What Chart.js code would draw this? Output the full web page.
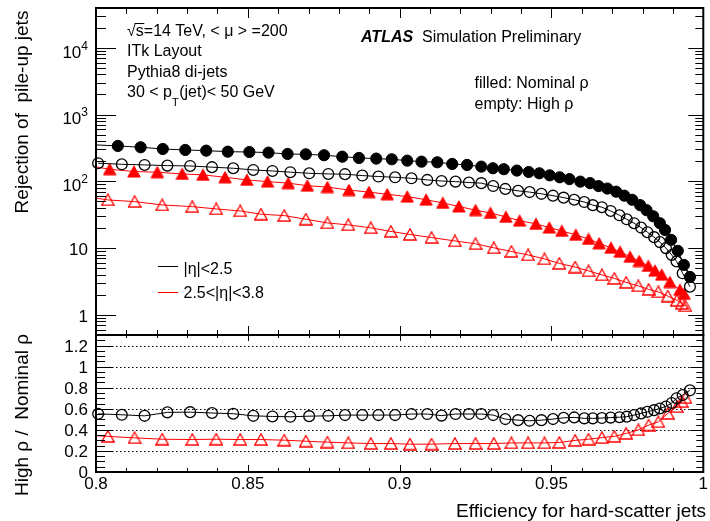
<!DOCTYPE html>
<html>
<head>
<meta charset="utf-8">
<title>Pile-up jet rejection vs efficiency</title>
<script src="https://cdn.jsdelivr.net/npm/chart.js@4.4.1/dist/chart.umd.min.js"></script>
<style>
  html, body { margin: 0; padding: 0; background: #fff; }
  #wrap { position: relative; width: 710px; height: 521px; }
  #wrap canvas { position: absolute; left: 0; top: 0; }
</style>
</head>
<body>
<div id="wrap">
  <canvas id="rejection" width="710" height="521"></canvas>
  <canvas id="ratio" width="710" height="521"></canvas>
</div>
<script>
const FONT = '"Liberation Sans", Arial, Helvetica, sans-serif';

// |eta| < 2.5, nominal rho (filled circles). First entry only starts the line.
const effCentralNom = [0.8, 0.8072, 0.8147, 0.8220, 0.8294, 0.8363, 0.8434, 0.8505, 0.8568, 0.8631,
  0.8691, 0.8751, 0.8811, 0.8866, 0.8923, 0.8974, 0.9025, 0.9072, 0.9124, 0.9173,
  0.9222, 0.9269, 0.9307, 0.9343, 0.9386, 0.9425, 0.9460, 0.9494, 0.9527, 0.9559,
  0.9595, 0.9627, 0.9655, 0.9684, 0.9713, 0.9740, 0.9766, 0.9792, 0.9813, 0.9835,
  0.9857, 0.9874, 0.9894, 0.9916, 0.9936, 0.9956];
const rejCentralNom = [351, 339, 324, 305, 295, 288, 278, 275, 269, 257,
  254, 246, 234, 224, 219, 214, 204, 197, 193, 182,
  176, 166, 157, 152, 145, 138, 132, 123, 115, 108,
  99, 94, 85, 78, 70, 61, 53, 44, 37, 30,
  23.6, 18.7, 13.3, 9.1, 5.6, 3.7];

// |eta| < 2.5, high rho (open circles)
const effCentralHigh = [0.8007, 0.8085, 0.8160, 0.8235, 0.8310, 0.8382, 0.8452, 0.8518, 0.8581, 0.8640,
  0.8702, 0.8765, 0.8820, 0.8877, 0.8930, 0.8985, 0.9039, 0.9091, 0.9138, 0.9184,
  0.9228, 0.9269, 0.9308, 0.9348, 0.9390, 0.9428, 0.9467, 0.9505, 0.9540, 0.9575,
  0.9608, 0.9636, 0.9666, 0.9695, 0.9724, 0.9748, 0.9772, 0.9795, 0.9816, 0.9838,
  0.9857, 0.9877, 0.9896, 0.9912, 0.9932, 0.9956];
const rejCentralHigh = [187, 180, 176, 172, 170, 163, 157, 148, 143, 137,
  132, 129, 128, 122, 118, 115, 111, 105, 101, 99,
  96, 94, 85, 77, 72, 69, 65, 61, 57, 53,
  49, 44, 41, 36, 31, 27, 23.6, 20.3, 17.3, 14.6,
  12.3, 10.0, 7.9, 6.3, 4.2, 2.65];

// 2.5 < |eta| < 3.8, nominal rho (filled triangles). First entry only starts the line.
const effFwdNom = [0.8, 0.8045, 0.8125, 0.8202, 0.8284, 0.8352, 0.8425, 0.8497, 0.8565, 0.8633,
  0.8696, 0.8762, 0.8833, 0.8899, 0.8959, 0.9025, 0.9087, 0.9142, 0.9195, 0.9250,
  0.9299, 0.9350, 0.9395, 0.9449, 0.9493, 0.9534, 0.9580, 0.9622, 0.9657, 0.9696,
  0.9726, 0.9759, 0.9789, 0.9819, 0.9841, 0.9863, 0.9890, 0.9923, 0.9937];
const rejFwdNom = [164, 152, 140, 137, 129, 125, 115, 105, 99, 94,
  86, 82, 74, 69, 64, 59, 53, 47.5, 42, 37,
  33.6, 29.3, 25.8, 23, 20.3, 18.1, 15.8, 13.7, 11.8, 10.1,
  8.8, 7.4, 6.4, 5.4, 4.6, 4.0, 3.1, 2.37, 2.06];

// 2.5 < |eta| < 3.8, high rho (open triangles). First entry only starts the line.
const effFwdHigh = [0.8, 0.8039, 0.8127, 0.8218, 0.8317, 0.8396, 0.8475, 0.8543, 0.8620, 0.8691,
  0.8762, 0.8831, 0.8905, 0.8971, 0.9034, 0.9105, 0.9182, 0.9250, 0.9310, 0.9368,
  0.9423, 0.9477, 0.9526, 0.9578, 0.9622, 0.9666, 0.9707, 0.9746, 0.9786, 0.9820,
  0.9852, 0.9883, 0.9913, 0.9929, 0.9941];
const rejFwdHigh = [56, 52.7, 49.7, 44.3, 41.8, 38.6, 36.0, 32.2, 30.7, 27.1,
  23.8, 22.3, 20.1, 17.8, 16.0, 14.4, 12.8, 11.6, 10.1, 8.9,
  7.9, 6.9, 5.9, 5.2, 4.56, 3.97, 3.52, 3.07, 2.72, 2.41,
  2.21, 1.91, 1.65, 1.49, 1.36];

// high rho / nominal rho, at the high-rho efficiency points
const ratioCentral = [0.552, 0.543, 0.533, 0.566, 0.568, 0.56, 0.553, 0.533, 0.527, 0.524,
  0.53, 0.533, 0.54, 0.54, 0.54, 0.54, 0.55, 0.55, 0.535, 0.55,
  0.55, 0.55, 0.54, 0.502, 0.492, 0.486, 0.492, 0.502, 0.514, 0.518,
  0.509, 0.509, 0.512, 0.516, 0.52, 0.525, 0.54, 0.556, 0.571, 0.587,
  0.603, 0.622, 0.655, 0.70, 0.73, 0.775];
const ratioFwd = [0.345, 0.338, 0.324, 0.311, 0.308, 0.311, 0.308, 0.308, 0.302, 0.292,
  0.283, 0.276, 0.270, 0.270, 0.264, 0.264, 0.270, 0.270, 0.270, 0.276,
  0.276, 0.276, 0.280, 0.30, 0.311, 0.326, 0.338, 0.366, 0.40, 0.445,
  0.476, 0.556, 0.619, 0.667, 0.705];

// axis ticks
const xTickValues = [0.8, 0.85, 0.9, 0.95, 1.0];
const xTickLabels = ['0.8', '0.85', '0.9', '0.95', '1'];
const rejTickValues = [1, 10, 100, 1000, 10000];
const rejTickBase = ['1', '10', '10', '10', '10'];
const rejTickPower = ['', '', '2', '3', '4'];
const ratioTickValues = [0, 0.2, 0.4, 0.6, 0.8, 1.0, 1.2];
const ratioTickLabels = ['0', '0.2', '0.4', '0.6', '0.8', '1', '1.2'];

const REJ_MIN = 0.5, REJ_MAX = 39400;

const xMinor = [];
for (let i = 81; i < 100; i++) if (i % 5) xMinor.push(i / 100);
const rejMinor = [];
for (let k = -1; k <= 4; k++) {
  for (let m = 2; m <= 9; m++) {
    const v = m * Math.pow(10, k);
    if (v > REJ_MIN && v < REJ_MAX) rejMinor.push(v);
  }
}
const ratioMinor = [];
for (let i = 1; i <= 25; i++) if (i % 4) ratioMinor.push(i * 0.05);

const RED = '#ff0000';

// ROOT-like triangle, centred on its bounding box
function triangleMarker(color, filled) {
  const c = document.createElement('canvas');
  c.width = 14; c.height = 13;
  const g = c.getContext('2d');
  g.beginPath();
  g.moveTo(7, 0.8);
  g.lineTo(13.2, 12);
  g.lineTo(0.8, 12);
  g.closePath();
  if (filled) { g.fillStyle = color; g.fill(); }
  g.strokeStyle = color;
  g.lineWidth = filled ? 1 : 1.3;
  g.stroke();
  return c;
}
const triFilled = triangleMarker(RED, true);
const triOpen = triangleMarker(RED, false);

function points(xs, ys) {
  return xs.map((x, i) => ({ x: x, y: ys[i] }));
}

// hideFirst: the first entry is only where the line begins
function series(xs, ys, color, style, filled, hideFirst) {
  return {
    data: points(xs, ys),
    borderColor: color,
    borderWidth: 1,
    tension: 0,
    clip: false,
    pointStyle: style,
    pointRadius: ctx => (hideFirst && ctx.dataIndex === 0) ? 0 : (filled ? 5.6 : 5.4),
    pointBorderWidth: filled ? 1 : 1.3,
    pointBorderColor: color,
    pointBackgroundColor: filled ? color : 'rgba(0,0,0,0)'
  };
}

function yTicks(ctx, yScale, values, x, len) {
  values.forEach(v => {
    const py = Math.round(yScale.getPixelForValue(v)) + 0.5;
    ctx.moveTo(x, py);
    ctx.lineTo(x + len, py);
  });
}

function xTicks(ctx, xScale, values, y, len) {
  values.forEach(v => {
    const px = Math.round(xScale.getPixelForValue(v)) + 0.5;
    ctx.moveTo(px, y);
    ctx.lineTo(px, y + len);
  });
}

function text(ctx, str, x, y, size, align, style) {
  ctx.font = (style || '') + ' ' + size + 'px ' + FONT;
  ctx.textAlign = align || 'left';
  ctx.textBaseline = 'alphabetic';
  ctx.fillText(str, x, y);
  return ctx.measureText(str).width;
}

function verticalTitle(ctx, str, x, yCenter, size) {
  ctx.save();
  ctx.translate(x, yCenter);
  ctx.rotate(-Math.PI / 2);
  text(ctx, str, 0, 0, size, 'center');
  ctx.restore();
}

function frame(ctx, a) {
  ctx.lineWidth = 2;
  ctx.strokeRect(a.left, a.top, a.right - a.left, a.bottom - a.top);
}

const upperDecor = {
  id: 'upperDecor',
  afterDraw(chart) {
    const { ctx, chartArea: a, scales: { x, y } } = chart;
    ctx.save();
    ctx.strokeStyle = '#000';
    ctx.fillStyle = '#000';
    ctx.lineWidth = 1;
    ctx.beginPath();
    yTicks(ctx, y, rejTickValues, a.left, 20);
    yTicks(ctx, y, rejMinor, a.left, 10);
    yTicks(ctx, y, rejTickValues, a.right, -15);
    yTicks(ctx, y, rejMinor, a.right, -8);
    xTicks(ctx, x, xTickValues, a.bottom, -9);
    xTicks(ctx, x, xMinor, a.bottom, -5);
    xTicks(ctx, x, xTickValues, a.top, 10);
    xTicks(ctx, x, xMinor, a.top, 6);
    ctx.stroke();
    frame(ctx, a);

    // decade labels, 10 with a raised exponent
    rejTickValues.forEach((v, i) => {
      const py = y.getPixelForValue(v);
      ctx.font = '17px ' + FONT;
      const wb = ctx.measureText(rejTickBase[i]).width;
      ctx.font = '12px ' + FONT;
      const wp = rejTickPower[i] ? ctx.measureText(rejTickPower[i]).width : 0;
      const left = a.left - 8 - wb - wp;
      if (wp) {
        text(ctx, rejTickBase[i], left, py + 9.8, 17);
        text(ctx, rejTickPower[i], left + wb, py + 1.8, 12);
      } else {
        text(ctx, rejTickBase[i], left, py + 7.2, 17);
      }
    });

    verticalTitle(ctx, 'Rejection of  pile-up jets', 28, 112, 19);

    // sample description
    const w = text(ctx, '\u221A', 127, 35.5, 16);
    text(ctx, 's=14 TeV, < \u03BC > =200', 127 + w, 35.5, 16);
    ctx.font = '16px ' + FONT;
    const sw = ctx.measureText('s').width;
    ctx.beginPath();
    ctx.lineWidth = 1;
    ctx.moveTo(127 + w - 1, 23.5);
    ctx.lineTo(127 + w + sw + 0.5, 23.5);
    ctx.stroke();
    text(ctx, 'ITk Layout', 127, 55.7, 16);
    text(ctx, 'Pythia8 di-jets', 127, 76.5, 16);
    let cx = 127;
    cx += text(ctx, '30 < p', cx, 97, 16);
    cx += text(ctx, 'T', cx, 105.5, 11);
    text(ctx, '(jet)< 50 GeV', cx + 0.5, 97, 16);

    text(ctx, 'ATLAS', 361, 42, 16, 'left', 'italic bold');
    text(ctx, 'Simulation Preliminary', 422, 42, 16);
    text(ctx, 'filled: Nominal \u03C1', 474.5, 88, 16);
    text(ctx, 'empty: High \u03C1', 474.5, 108.5, 16);

    // legend
    ctx.lineWidth = 1;
    ctx.strokeStyle = '#000';
    ctx.beginPath(); ctx.moveTo(158, 266.5); ctx.lineTo(178, 266.5); ctx.stroke();
    ctx.strokeStyle = RED;
    ctx.beginPath(); ctx.moveTo(158, 292.5); ctx.lineTo(178, 292.5); ctx.stroke();
    text(ctx, '|\u03B7|<2.5', 183.5, 274, 16);
    text(ctx, '2.5<|\u03B7|<3.8', 183.5, 298, 16);
    ctx.restore();
  }
};

const lowerDecor = {
  id: 'lowerDecor',
  beforeDatasetsDraw(chart) {
    const { ctx, chartArea: a, scales: { y } } = chart;
    ctx.save();
    ctx.strokeStyle = '#000';
    ctx.lineWidth = 1;
    ctx.setLineDash([1.5, 2.5]);
    ctx.beginPath();
    ratioTickValues.slice(1).forEach(v => {
      const py = Math.round(y.getPixelForValue(v)) + 0.5;
      ctx.moveTo(a.left, py);
      ctx.lineTo(a.right, py);
    });
    ctx.stroke();
    ctx.restore();
  },
  afterDraw(chart) {
    const { ctx, chartArea: a, scales: { x, y } } = chart;
    ctx.save();
    ctx.strokeStyle = '#000';
    ctx.fillStyle = '#000';
    ctx.lineWidth = 1;
    ctx.beginPath();
    yTicks(ctx, y, ratioTickValues, a.left, 17);
    yTicks(ctx, y, ratioMinor, a.left, 9);
    yTicks(ctx, y, ratioTickValues, a.right, -13);
    yTicks(ctx, y, ratioMinor, a.right, -7);
    xTicks(ctx, x, xTickValues, a.bottom, -7);
    xTicks(ctx, x, xMinor, a.bottom, -4);
    xTicks(ctx, x, xTickValues, a.top, 6);
    xTicks(ctx, x, xMinor, a.top, 3);
    ctx.stroke();
    frame(ctx, a);

    ratioTickValues.forEach((v, i) => {
      text(ctx, ratioTickLabels[i], a.left - 8, y.getPixelForValue(v) + 6, 17, 'right');
    });
    xTickValues.forEach((v, i) => {
      text(ctx, xTickLabels[i], x.getPixelForValue(v), 488.5, 17, 'center');
    });

    verticalTitle(ctx, 'High \u03C1 /  Nominal \u03C1', 28, 415, 19);
    text(ctx, 'Efficiency for hard-scatter jets', 706, 516.5, 19, 'right');
    ctx.restore();
  }
};

const baseOptions = (padding, yScale) => ({
  responsive: false,
  maintainAspectRatio: false,
  animation: false,
  events: [],
  layout: { padding: padding },
  plugins: { legend: { display: false }, tooltip: { enabled: false } },
  scales: {
    x: { type: 'linear', min: 0.8, max: 1.0, display: false },
    y: yScale
  }
});

new Chart(document.getElementById('rejection'), {
  type: 'line',
  data: {
    datasets: [
      series(effCentralNom, rejCentralNom, '#000', 'circle', true, true),
      series(effCentralHigh, rejCentralHigh, '#000', 'circle', false, false),
      series(effFwdNom, rejFwdNom, RED, triFilled, true, true),
      series(effFwdHigh, rejFwdHigh, RED, triOpen, false, true)
    ]
  },
  options: baseOptions(
    { left: 96, right: 5, top: 8, bottom: 186 },
    { type: 'logarithmic', min: REJ_MIN, max: REJ_MAX, display: false }
  ),
  plugins: [upperDecor]
});

new Chart(document.getElementById('ratio'), {
  type: 'line',
  data: {
    datasets: [
      series(effCentralHigh, ratioCentral, '#000', 'circle', false, false),
      series(effFwdHigh, ratioFwd, RED, triOpen, false, true)
    ]
  },
  options: baseOptions(
    { left: 96, right: 5, top: 335, bottom: 49 },
    { type: 'linear', min: 0, max: 1.3, display: false }
  ),
  plugins: [lowerDecor]
});
</script>
</body>
</html>
